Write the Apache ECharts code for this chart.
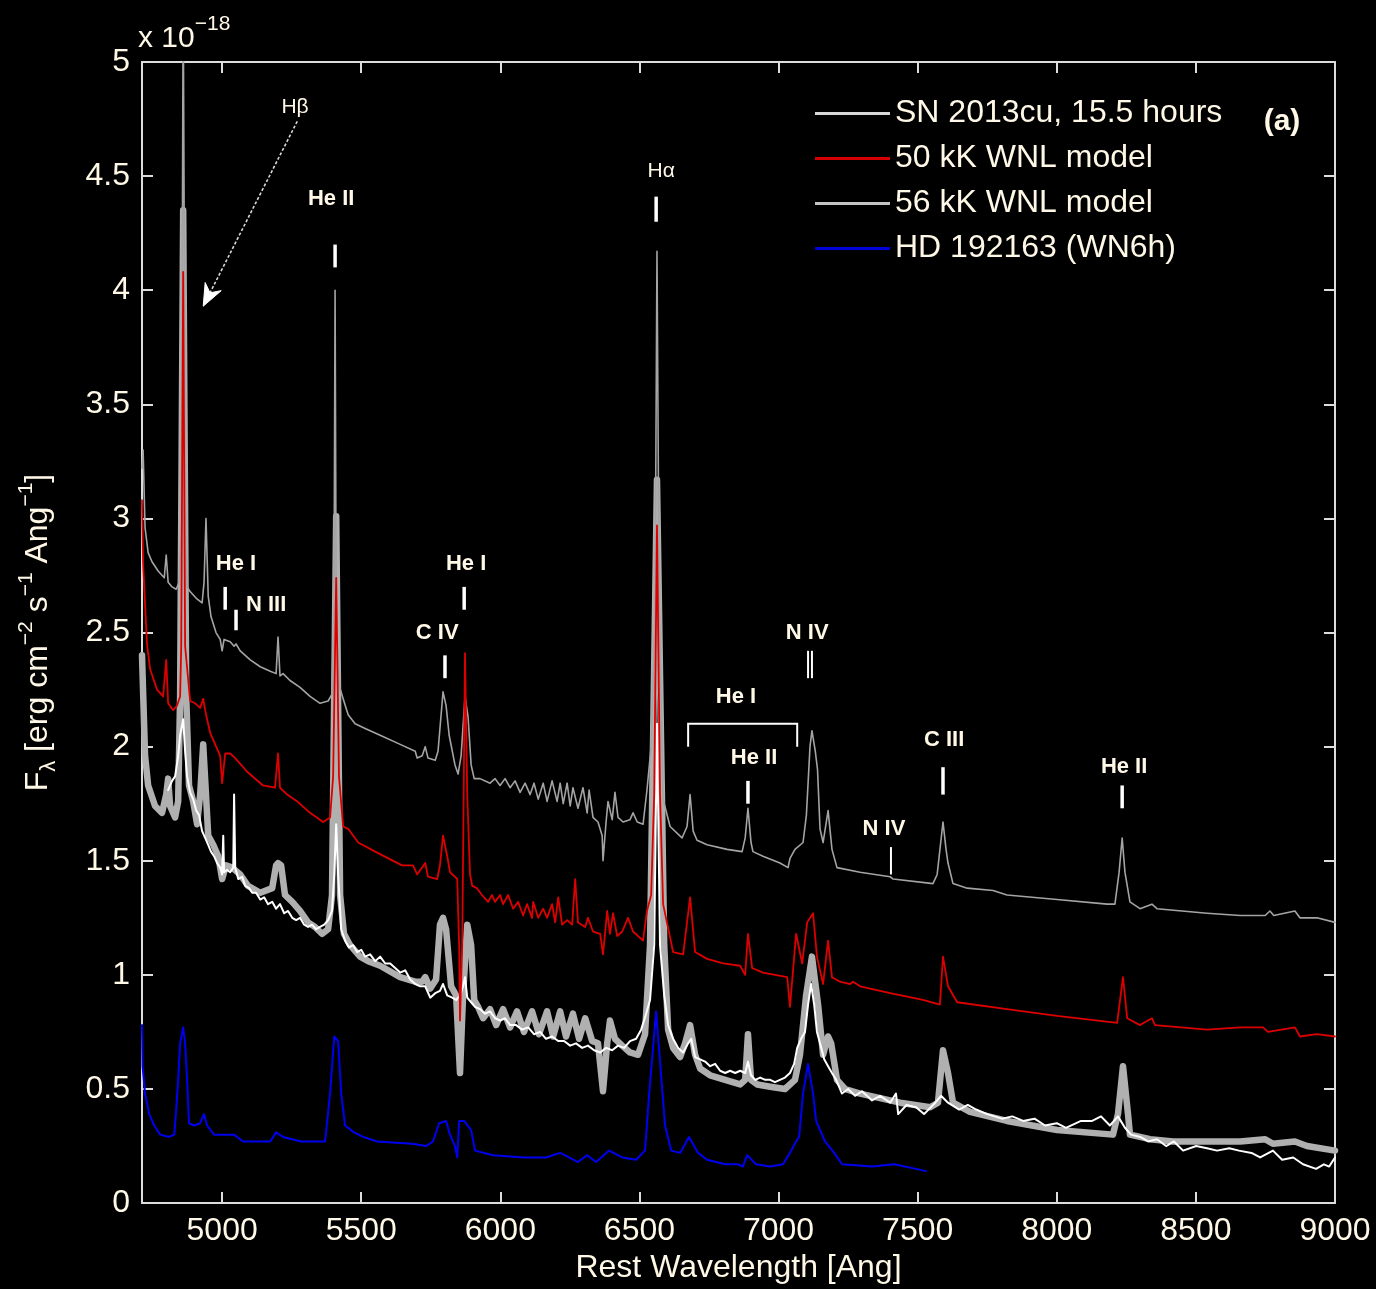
<!DOCTYPE html>
<html>
<head>
<meta charset="utf-8">
<script src="https://cdn.jsdelivr.net/npm/echarts@6/dist/echarts.min.js"></script>
<style>
html,body{margin:0;padding:0;background:#000;}
#c{width:1376px;height:1289px;}
</style>
</head>
<body>
<div id="c"></div>
<script>
// ---------------- DATA (wavelength [Ang], flux [1e-18 erg cm^-2 s^-1 Ang^-1]) ----------------
const xTickStep = 500;
const yTicks = [0, 0.5, 1, 1.5, 2, 2.5, 3, 3.5, 4, 4.5, 5];

// 56 kK WNL model (offset, thin grey)
const model56Offset = [[4712,3.22],[4716,3.30],[4723,2.96],[4734,2.85],[4748,2.81],[4770,2.77],[4792,2.74],[4799,2.84],[4806,2.72],[4820,2.70],[4835,2.69],[4845,2.72],[4853,2.92],[4857,4.20],[4860,5.30],[4864,4.20],[4868,2.90],[4874,2.70],[4885,2.68],[4907,2.65],[4928,2.63],[4935,2.72],[4942,3.00],[4950,2.66],[4960,2.57],[4978,2.50],[4993,2.47],[5000,2.42],[5007,2.47],[5029,2.46],[5043,2.44],[5050,2.45],[5065,2.42],[5101,2.38],[5137,2.35],[5173,2.33],[5194,2.32],[5201,2.48],[5208,2.31],[5219,2.32],[5244,2.29],[5280,2.26],[5316,2.22],[5352,2.19],[5381,2.20],[5395,2.23],[5402,2.60],[5406,4.00],[5410,2.60],[5420,2.27],[5435,2.21],[5453,2.14],[5478,2.10],[5514,2.08],[5568,2.05],[5640,2.01],[5694,1.98],[5701,1.95],[5719,1.96],[5730,2.00],[5740,1.95],[5766,1.94],[5776,1.98],[5794,2.24],[5805,2.18],[5816,2.05],[5837,1.92],[5848,1.88],[5859,1.96],[5873,2.22],[5884,2.13],[5895,1.92],[5906,1.86],[5916,1.86],[5927,1.86],[5963,1.84],[5981,1.86],[5999,1.83],[6017,1.86],[6035,1.82],[6053,1.85],[6071,1.80],[6089,1.84],[6107,1.79],[6121,1.84],[6136,1.77],[6154,1.84],[6168,1.76],[6186,1.85],[6204,1.76],[6215,1.84],[6226,1.75],[6240,1.84],[6251,1.74],[6261,1.82],[6279,1.73],[6297,1.82],[6312,1.71],[6319,1.81],[6333,1.69],[6351,1.67],[6366,1.61],[6369,1.50],[6380,1.67],[6387,1.76],[6402,1.68],[6412,1.80],[6423,1.69],[6441,1.67],[6466,1.68],[6477,1.71],[6492,1.67],[6513,1.66],[6527,1.81],[6542,2.00],[6556,2.60],[6563,4.17],[6571,2.60],[6585,1.77],[6610,1.65],[6653,1.60],[6671,1.65],[6682,1.79],[6693,1.63],[6707,1.59],[6743,1.57],[6815,1.55],[6869,1.54],[6880,1.60],[6890,1.73],[6901,1.58],[6908,1.54],[6944,1.52],[7005,1.49],[7034,1.47],[7041,1.51],[7059,1.55],[7088,1.58],[7100,1.70],[7113,2.00],[7120,2.07],[7132,1.98],[7140,1.90],[7149,1.64],[7160,1.58],[7178,1.72],[7192,1.55],[7210,1.47],[7293,1.45],[7401,1.43],[7412,1.42],[7555,1.40],[7570,1.44],[7591,1.67],[7602,1.55],[7609,1.49],[7627,1.40],[7678,1.38],[7771,1.37],[7821,1.35],[8001,1.33],[8181,1.31],[8209,1.31],[8224,1.45],[8235,1.60],[8245,1.45],[8263,1.32],[8299,1.29],[8342,1.31],[8360,1.29],[8540,1.27],[8659,1.26],[8749,1.26],[8766,1.28],[8780,1.26],[8856,1.28],[8874,1.25],[8935,1.25],[9000,1.23]];

// 50 kK WNL model (offset, red)
const model50Offset = [[4712,3.08],[4716,2.80],[4730,2.45],[4741,2.34],[4766,2.25],[4788,2.22],[4799,2.38],[4806,2.19],[4824,2.16],[4838,2.18],[4849,2.22],[4853,2.44],[4860,4.08],[4867,2.44],[4885,2.20],[4903,2.19],[4921,2.17],[4932,2.21],[4939,2.16],[4946,2.12],[4957,2.06],[4982,1.99],[4993,1.96],[5000,1.84],[5011,1.97],[5029,1.97],[5047,1.95],[5054,1.95],[5090,1.89],[5147,1.83],[5190,1.82],[5201,1.97],[5208,1.82],[5234,1.79],[5270,1.76],[5316,1.71],[5363,1.67],[5388,1.69],[5399,1.87],[5410,2.74],[5420,1.87],[5435,1.65],[5453,1.64],[5489,1.58],[5550,1.54],[5647,1.48],[5686,1.48],[5701,1.44],[5730,1.49],[5740,1.43],[5773,1.42],[5783,1.48],[5794,1.61],[5809,1.52],[5819,1.45],[5845,1.42],[5852,1.13],[5855,0.80],[5863,1.13],[5873,2.41],[5881,1.79],[5891,1.44],[5899,1.39],[5916,1.38],[5934,1.35],[5956,1.32],[5970,1.35],[5981,1.32],[5999,1.35],[6010,1.31],[6028,1.35],[6046,1.29],[6064,1.32],[6082,1.26],[6096,1.31],[6114,1.25],[6118,1.32],[6136,1.25],[6154,1.29],[6168,1.25],[6186,1.31],[6197,1.23],[6208,1.34],[6222,1.22],[6240,1.24],[6258,1.22],[6269,1.42],[6279,1.23],[6305,1.21],[6315,1.25],[6333,1.19],[6359,1.18],[6369,1.09],[6384,1.28],[6394,1.18],[6405,1.27],[6420,1.17],[6438,1.19],[6459,1.25],[6477,1.19],[6513,1.15],[6527,1.28],[6542,1.35],[6553,1.79],[6563,2.97],[6574,1.79],[6585,1.31],[6621,1.10],[6657,1.09],[6682,1.34],[6700,1.10],[6743,1.07],[6801,1.05],[6862,1.04],[6880,1.00],[6890,1.18],[6905,1.03],[6944,1.01],[7031,0.99],[7041,0.86],[7063,1.18],[7085,1.05],[7103,1.23],[7124,1.27],[7138,1.08],[7160,0.96],[7178,1.15],[7192,0.99],[7221,0.97],[7257,0.96],[7268,0.97],[7293,0.95],[7401,0.92],[7519,0.89],[7580,0.87],[7591,1.08],[7609,0.95],[7642,0.88],[7821,0.85],[8001,0.82],[8217,0.79],[8238,0.99],[8253,0.81],[8299,0.78],[8342,0.81],[8353,0.78],[8540,0.76],[8659,0.77],[8741,0.77],[8759,0.75],[8856,0.77],[8874,0.73],[8935,0.74],[9000,0.73]];

// 56 kK WNL model at observed resolution (thick light grey)
const model56Smooth = [[4712,2.40],[4723,1.96],[4734,1.83],[4759,1.74],[4784,1.71],[4799,1.79],[4806,1.86],[4813,1.74],[4831,1.69],[4842,1.76],[4849,2.22],[4860,4.35],[4871,2.22],[4881,1.83],[4896,1.76],[4910,1.66],[4921,1.79],[4932,2.01],[4942,1.79],[4950,1.61],[4968,1.57],[4986,1.52],[5000,1.42],[5014,1.48],[5036,1.47],[5065,1.44],[5093,1.39],[5137,1.36],[5180,1.38],[5194,1.48],[5201,1.49],[5212,1.48],[5226,1.35],[5252,1.32],[5280,1.28],[5309,1.23],[5334,1.21],[5359,1.18],[5381,1.20],[5395,1.35],[5410,3.01],[5424,1.35],[5438,1.18],[5460,1.13],[5496,1.08],[5525,1.06],[5568,1.04],[5640,0.99],[5694,0.97],[5719,0.97],[5730,0.99],[5748,0.94],[5769,0.98],[5783,1.22],[5794,1.25],[5805,1.20],[5823,0.95],[5841,0.91],[5855,0.57],[5866,0.91],[5881,1.22],[5895,1.13],[5906,0.89],[5920,0.86],[5938,0.81],[5963,0.85],[5985,0.78],[6010,0.85],[6035,0.77],[6060,0.84],[6085,0.75],[6114,0.84],[6139,0.74],[6168,0.84],[6190,0.73],[6215,0.84],[6236,0.73],[6261,0.83],[6283,0.72],[6305,0.81],[6330,0.71],[6351,0.70],[6369,0.49],[6384,0.70],[6394,0.80],[6412,0.72],[6438,0.69],[6466,0.66],[6495,0.65],[6520,0.74],[6538,1.13],[6563,3.17],[6589,1.13],[6603,0.76],[6621,0.68],[6646,0.64],[6664,0.70],[6682,0.78],[6700,0.65],[6718,0.59],[6754,0.56],[6808,0.54],[6862,0.52],[6880,0.54],[6890,0.74],[6901,0.54],[6923,0.52],[6970,0.51],[7023,0.50],[7059,0.54],[7077,0.65],[7099,0.91],[7120,1.08],[7142,0.87],[7160,0.65],[7171,0.70],[7178,0.73],[7189,0.70],[7210,0.54],[7239,0.50],[7293,0.48],[7365,0.46],[7437,0.44],[7545,0.42],[7573,0.44],[7591,0.67],[7609,0.57],[7627,0.44],[7688,0.40],[7821,0.36],[8001,0.32],[8202,0.30],[8220,0.39],[8238,0.60],[8256,0.39],[8263,0.30],[8335,0.28],[8418,0.27],[8540,0.27],[8659,0.27],[8749,0.28],[8777,0.26],[8856,0.27],[8899,0.25],[9000,0.23]];

// SN 2013cu observed, 15.5 hours (white)
const sn2013cu = [[4806,1.81],[4820,1.85],[4831,1.87],[4842,1.96],[4849,2.05],[4860,2.12],[4867,1.98],[4874,1.87],[4885,1.80],[4896,1.77],[4907,1.72],[4917,1.70],[4928,1.63],[4939,1.60],[4950,1.57],[4960,1.54],[4971,1.52],[4982,1.49],[4993,1.47],[5000,1.44],[5004,1.61],[5007,1.45],[5018,1.46],[5029,1.45],[5040,1.47],[5043,1.79],[5047,1.47],[5058,1.42],[5072,1.43],[5083,1.39],[5097,1.38],[5108,1.36],[5122,1.36],[5137,1.33],[5151,1.34],[5165,1.31],[5180,1.32],[5194,1.29],[5208,1.31],[5223,1.27],[5237,1.28],[5252,1.25],[5266,1.24],[5280,1.25],[5295,1.22],[5309,1.21],[5323,1.22],[5338,1.20],[5352,1.21],[5367,1.22],[5381,1.24],[5395,1.28],[5403,1.44],[5410,1.66],[5417,1.44],[5428,1.20],[5442,1.15],[5456,1.12],[5471,1.13],[5485,1.10],[5500,1.11],[5514,1.08],[5532,1.09],[5550,1.06],[5568,1.08],[5586,1.05],[5604,1.05],[5622,1.03],[5640,1.01],[5658,1.02],[5676,0.98],[5694,0.96],[5712,0.95],[5730,0.95],[5748,0.90],[5766,0.92],[5783,0.93],[5794,0.96],[5809,0.91],[5827,0.90],[5841,0.89],[5855,0.91],[5866,0.95],[5873,0.99],[5881,0.90],[5895,0.88],[5909,0.86],[5927,0.85],[5945,0.83],[5963,0.84],[5981,0.81],[5999,0.80],[6017,0.81],[6035,0.78],[6057,0.78],[6078,0.76],[6100,0.77],[6121,0.74],[6143,0.75],[6164,0.72],[6186,0.73],[6208,0.71],[6229,0.71],[6251,0.69],[6272,0.70],[6294,0.68],[6315,0.69],[6337,0.67],[6359,0.66],[6380,0.68],[6402,0.67],[6423,0.69],[6445,0.68],[6466,0.71],[6488,0.72],[6506,0.76],[6524,0.83],[6538,0.89],[6553,1.13],[6563,2.10],[6574,1.13],[6589,0.91],[6603,0.78],[6621,0.72],[6639,0.68],[6657,0.66],[6675,0.70],[6686,0.72],[6700,0.64],[6718,0.63],[6736,0.62],[6754,0.60],[6772,0.61],[6790,0.58],[6808,0.57],[6826,0.58],[6844,0.57],[6862,0.58],[6880,0.57],[6890,0.62],[6901,0.56],[6916,0.54],[6934,0.55],[6952,0.54],[6970,0.54],[6987,0.53],[7005,0.54],[7023,0.55],[7041,0.57],[7056,0.61],[7067,0.68],[7081,0.72],[7095,0.75],[7106,0.87],[7117,0.96],[7128,0.87],[7138,0.75],[7149,0.70],[7164,0.63],[7178,0.60],[7192,0.57],[7207,0.54],[7228,0.48],[7250,0.50],[7275,0.47],[7300,0.49],[7336,0.45],[7365,0.47],[7401,0.44],[7422,0.48],[7430,0.39],[7460,0.43],[7494,0.42],[7523,0.39],[7563,0.44],[7584,0.47],[7609,0.44],[7649,0.41],[7680,0.43],[7710,0.41],[7750,0.39],[7803,0.37],[7840,0.38],[7879,0.36],[7920,0.37],[7958,0.34],[8000,0.35],[8033,0.33],[8087,0.36],[8127,0.36],[8159,0.38],[8191,0.34],[8220,0.38],[8245,0.33],[8267,0.30],[8300,0.29],[8328,0.27],[8360,0.28],[8393,0.25],[8421,0.27],[8454,0.23],[8501,0.25],[8540,0.24],[8576,0.23],[8620,0.24],[8655,0.23],[8700,0.22],[8731,0.20],[8777,0.23],[8810,0.19],[8850,0.20],[8885,0.17],[8932,0.15],[8960,0.17],[8979,0.16],[9000,0.20]];

// HD 192163 (WN6h) (blue)
const hd192163 = [[4712,0.78],[4714,0.60],[4723,0.48],[4738,0.39],[4756,0.34],[4777,0.30],[4810,0.29],[4828,0.30],[4835,0.41],[4842,0.54],[4849,0.70],[4860,0.77],[4867,0.70],[4874,0.54],[4881,0.35],[4899,0.34],[4921,0.35],[4935,0.39],[4946,0.34],[4971,0.30],[5011,0.30],[5043,0.30],[5075,0.27],[5108,0.27],[5173,0.27],[5194,0.31],[5219,0.29],[5284,0.27],[5331,0.27],[5370,0.27],[5388,0.48],[5403,0.73],[5417,0.71],[5428,0.48],[5442,0.34],[5474,0.31],[5507,0.29],[5557,0.27],[5683,0.26],[5733,0.25],[5758,0.27],[5780,0.35],[5805,0.36],[5819,0.30],[5837,0.25],[5845,0.20],[5852,0.36],[5870,0.36],[5895,0.32],[5909,0.23],[5974,0.21],[6085,0.20],[6164,0.20],[6215,0.22],[6247,0.20],[6279,0.18],[6312,0.21],[6344,0.18],[6391,0.23],[6438,0.20],[6488,0.19],[6520,0.23],[6535,0.48],[6553,0.74],[6560,0.84],[6574,0.62],[6592,0.34],[6614,0.23],[6646,0.22],[6678,0.29],[6711,0.22],[6743,0.19],[6808,0.17],[6855,0.17],[6872,0.16],[6887,0.21],[6919,0.17],[6970,0.16],[7016,0.17],[7041,0.22],[7063,0.27],[7074,0.29],[7088,0.48],[7106,0.61],[7124,0.48],[7135,0.36],[7167,0.27],[7200,0.22],[7228,0.17],[7336,0.16],[7415,0.17],[7494,0.15],[7530,0.14]];

// Line identifications: [text, label wavelength, label flux]
const lineLabels = [
  ['He II', 5392, 4.40], ['He I', 5050, 2.80], ['N III', 5158, 2.62], ['C IV', 5773, 2.50],
  ['He I', 5877, 2.80], ['He I', 6847, 2.22], ['He II', 6912, 1.95], ['N IV', 7103, 2.50],
  ['N IV', 7379, 1.64], ['C III', 7595, 2.03], ['He II', 8242, 1.91]
];
const greekLabels = [['Hβ', 5262, 4.80], ['Hα', 6578, 4.52]];
// Tick markers: [wavelength, flux top, flux bottom, thick?]
const lineTicks = [
  [5406, 4.20, 4.10, 1], [5011, 2.70, 2.60, 1], [5050, 2.60, 2.51, 1], [5801, 2.40, 2.30, 1],
  [5870, 2.70, 2.60, 1], [6560, 4.41, 4.30, 1], [6890, 1.85, 1.75, 1], [7106, 2.42, 2.30, 0],
  [7120, 2.42, 2.30, 0], [7404, 1.56, 1.44, 0], [7591, 1.91, 1.79, 1], [8235, 1.83, 1.73, 1]
];
const heIBracket = [[6675, 2.00], [6675, 2.10], [7067, 2.10], [7067, 2.00]];
const hBetaArrow = [[5270, 4.74], [4932, 3.93]];

// ---------------- CHART ----------------
const FONT = "'Liberation Sans', Arial, Helvetica, sans-serif";
const TXT = '#fff8e6';
const AX = '#dcdcdc';

const chart = echarts.init(document.getElementById('c'), null, {renderer: 'canvas'});

function axisBase(extra) {
  return Object.assign({
    type: 'value',
    axisLine: {show: true, onZero: false, lineStyle: {color: AX, width: 2}},
    axisTick: {show: true, inside: true, length: 11, lineStyle: {color: AX, width: 2}},
    splitLine: {show: false}
  }, extra);
}
const lineSeries = (name, data, color, width, z) => ({
  type: 'line', name, data, showSymbol: false, symbol: 'none', clip: true, z,
  lineStyle: {color, width, join: 'round', cap: 'round'}, itemStyle: {color},
  emphasis: {disabled: true}, animation: false
});

const option = {
  backgroundColor: '#000',
  animation: false,
  grid: {left: 142, right: 41, top: 62, bottom: 79},
  legend: {
    orient: 'vertical', left: 815, top: 91, padding: 0, itemGap: 0,
    itemWidth: 75, itemHeight: 3, icon: 'rect', selectedMode: false,
    textStyle: {color: TXT, fontSize: 32, fontFamily: FONT, lineHeight: 45},
    data: [
      {name: 'SN 2013cu, 15.5 hours', itemStyle: {color: '#d8d8d8'}},
      {name: '50 kK WNL model', itemStyle: {color: '#d40000'}},
      {name: '56 kK WNL model', itemStyle: {color: '#c4c4c4'}},
      {name: 'HD 192163 (WN6h)', itemStyle: {color: '#0000d8'}}
    ]
  },
  xAxis: [
    axisBase({
      min: 4712, max: 9000, splitNumber: 9, minInterval: xTickStep, maxInterval: xTickStep, position: 'bottom',
      axisLabel: {showMinLabel: false, color: TXT, fontSize: 32, fontFamily: FONT, margin: 12,
        formatter: v => String(Math.round(v))},
      name: 'Rest Wavelength [Ang]', nameLocation: 'middle', nameGap: 46,
      nameTextStyle: {color: TXT, fontSize: 32, fontFamily: FONT}
    }),
    axisBase({
      min: 4712, max: 9000, splitNumber: 9, minInterval: xTickStep, maxInterval: xTickStep, position: 'top',
      axisLabel: {show: false}
    })
  ],
  yAxis: [
    axisBase({
      min: yTicks[0], max: yTicks[yTicks.length - 1], interval: yTicks[1] - yTicks[0], position: 'left',
      axisLabel: {color: TXT, fontSize: 32, fontFamily: FONT, margin: 12},
      name: '{m|F}{sub|λ}{m| [erg cm}{sup|−2}{m| s}{sup|−1}{m| Ang}{sup|−1}{m|]}',
      nameLocation: 'middle', nameRotate: 90, nameGap: 82,
      nameTextStyle: {
        color: TXT, fontSize: 32, fontFamily: FONT,
        rich: {
          m: {color: TXT, fontSize: 32, fontFamily: FONT, lineHeight: 44, verticalAlign: 'middle'},
          sup: {color: TXT, fontSize: 21, fontFamily: FONT, lineHeight: 22, verticalAlign: 'top'},
          sub: {color: TXT, fontSize: 22, fontFamily: FONT, lineHeight: 22, verticalAlign: 'bottom'}
        }
      }
    }),
    axisBase({
      min: yTicks[0], max: yTicks[yTicks.length - 1], interval: yTicks[1] - yTicks[0], position: 'right',
      axisLabel: {show: false}
    })
  ],
  series: [
    lineSeries('56 kK WNL model (observed resolution)', model56Smooth, '#b0b0b0', 6.5, 2),
    lineSeries('SN 2013cu, 15.5 hours', sn2013cu, '#ffffff', 2, 3),
    lineSeries('HD 192163 (WN6h)', hd192163, '#0000f0', 2, 4),
    lineSeries('56 kK WNL model', model56Offset, '#a4a4a4', 1.6, 5),
    lineSeries('50 kK WNL model', model50Offset, '#dd0000', 1.8, 6)
  ]
};
chart.setOption(option);

// ---------------- ANNOTATIONS ----------------
const P = (l, f) => chart.convertToPixel({xAxisIndex: 0, yAxisIndex: 0}, [l, f]);
const g = [];
lineLabels.forEach(([t, l, f]) => {
  const p = P(l, f);
  g.push({type: 'text', x: p[0], y: p[1], z: 100,
    style: {text: t, fill: TXT, fontSize: 22, fontWeight: 'bold', fontFamily: FONT, align: 'center', verticalAlign: 'middle'}});
});
greekLabels.forEach(([t, l, f]) => {
  const p = P(l, f);
  g.push({type: 'text', x: p[0], y: p[1], z: 100,
    style: {text: t, fill: TXT, fontSize: 21, fontFamily: FONT, align: 'center', verticalAlign: 'middle'}});
});
lineTicks.forEach(([l, f1, f2, thick]) => {
  const a = P(l, f1), b = P(l, f2);
  g.push({type: 'line', z: 100, shape: {x1: a[0], y1: a[1], x2: b[0], y2: b[1]},
    style: {stroke: '#ffffff', lineWidth: thick ? 3.5 : 2}});
});
g.push({type: 'polyline', z: 100, shape: {points: heIBracket.map(q => P(q[0], q[1]))},
  style: {stroke: '#ffffff', lineWidth: 2, fill: null}});
// Hβ arrow
(function () {
  const a = P(hBetaArrow[0][0], hBetaArrow[0][1]);
  const b = P(hBetaArrow[1][0], hBetaArrow[1][1]);
  const dx = b[0] - a[0], dy = b[1] - a[1], L = Math.hypot(dx, dy);
  const ux = dx / L, uy = dy / L, nx = -uy, ny = ux;
  const head = 22, half = 9, notch = 15;
  g.push({type: 'line', z: 100, shape: {x1: a[0], y1: a[1], x2: b[0] - ux * notch, y2: b[1] - uy * notch},
    style: {stroke: '#d8d8d8', lineWidth: 1.6, lineDash: [3, 2]}});
  g.push({type: 'polygon', z: 100, shape: {points: [
    [b[0], b[1]],
    [b[0] - ux * head + nx * half, b[1] - uy * head + ny * half],
    [b[0] - ux * notch, b[1] - uy * notch],
    [b[0] - ux * head - nx * half, b[1] - uy * head - ny * half]
  ]}, style: {fill: '#ffffff', stroke: '#ffffff', lineWidth: 1}});
})();
// Exponent label and panel tag
g.push({type: 'text', left: 138, top: 14, z: 100,
  style: {text: '{m|x 10}{s|−18}', rich: {
    m: {fill: TXT, fontSize: 30, fontFamily: FONT, lineHeight: 40, verticalAlign: 'bottom'},
    s: {fill: TXT, fontSize: 21, fontFamily: FONT, lineHeight: 22, verticalAlign: 'top'}}}});
g.push({type: 'text', x: 1282, y: 122, z: 100,
  style: {text: '(a)', fill: TXT, fontSize: 30, fontWeight: 'bold', fontFamily: FONT, align: 'center', verticalAlign: 'middle'}});
chart.setOption({graphic: g});
</script>
</body>
</html>
